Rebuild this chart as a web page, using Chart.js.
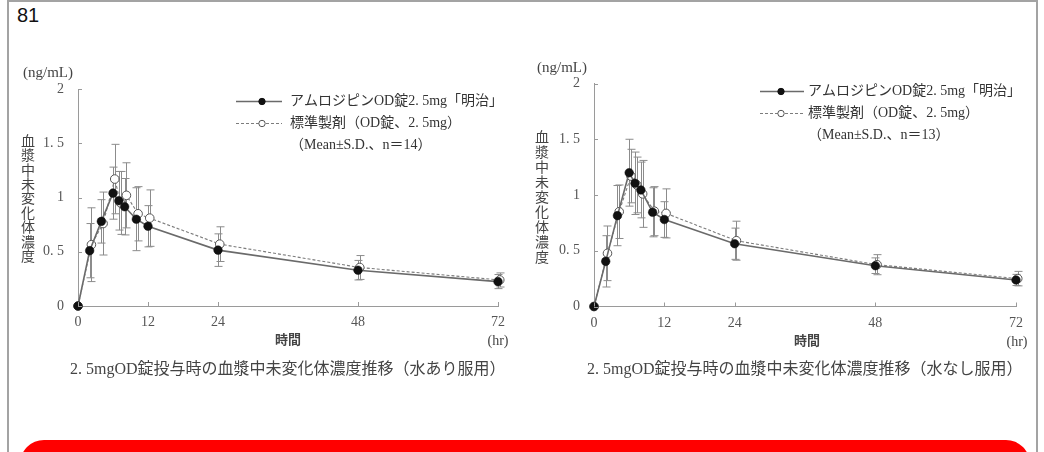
<!DOCTYPE html>
<html lang="ja">
<head>
<meta charset="utf-8">
<title>アムロジピンOD錠2.5mg 血漿中未変化体濃度推移</title>
<script src="https://cdn.jsdelivr.net/npm/chart.js@4.4.1/dist/chart.umd.min.js"></script>
<style>
  html, body { margin: 0; padding: 0; background: #fff; }
  body { width: 1044px; height: 452px; position: relative; overflow: hidden; }
  #frame { position: absolute; left: 7px; top: 0; width: 1031px; height: 470px;
           border: 2px solid #a3a3a3; box-sizing: border-box; }
  #page-no { position: absolute; left: 17px; top: 4px; color: #111;
             font: 20px 'Liberation Sans', 'Noto Sans', sans-serif; }
  #banner { position: absolute; left: 20px; top: 440px; width: 1010px; height: 60px;
            background: #ff0000; border-radius: 24px; }
  canvas { position: absolute; top: 0; }
  #chart-water { left: 0; }
  #chart-nowater { left: 522px; }
</style>
</head>
<body>
<div id="frame"></div>
<div id="page-no">81</div>
<canvas id="chart-water" width="522" height="400"></canvas>
<canvas id="chart-nowater" width="522" height="400"></canvas>
<div id="banner"></div>

<script>
// ---- sampling times (hr) ----
const TIME = [0, 2, 4, 6, 7, 8, 10, 12, 24, 48, 72];

// ---- with water: mean and S.D. (ng/mL) ----
const WATER_TEST    = [0, 0.51, 0.78, 1.04, 0.97, 0.915, 0.80, 0.735, 0.515, 0.33, 0.225];
const WATER_TEST_SD = [0, 0.25, 0.20, 0.24, 0.27, 0.26, 0.29, 0.19, 0.15, 0.09, 0.065];
const WATER_REF     = [0, 0.565, 0.76, 1.17, 0.95, 1.02, 0.85, 0.81, 0.57, 0.355, 0.24];
const WATER_REF_SD  = [0, 0.34, 0.29, 0.32, 0.29, 0.30, 0.25, 0.26, 0.16, 0.11, 0.065];

// ---- without water: mean and S.D. (ng/mL) ----
const DRY_TEST    = [0, 0.405, 0.815, 1.20, 1.105, 1.045, 0.845, 0.78, 0.563, 0.366, 0.238];
const DRY_TEST_SD = [0, 0.23, 0.27, 0.30, 0.28, 0.25, 0.22, 0.16, 0.14, 0.07, 0.05];
const DRY_REF     = [0, 0.477, 0.85, 1.17, 1.09, 1.01, 0.855, 0.835, 0.59, 0.375, 0.25];
const DRY_REF_SD  = [0, 0.245, 0.24, 0.24, 0.25, 0.30, 0.22, 0.22, 0.175, 0.09, 0.065];

// ---- axis ticks ----
const X_TICKS = [0, 12, 24, 48, 72];
const Y_TICKS = [0, 0.5, 1, 1.5, 2];
const Y_TICK_LABELS = ['0', '0. 5', '1', '1. 5', '2'];

// ---- texts ----
const TEST_NAME = 'アムロジピンOD錠2. 5mg「明治」';
const REF_NAME = '標準製剤（OD錠、2. 5mg）';
const N_WATER = 14;
const N_DRY = 13;
const Y_UNIT = '(ng/mL)';
const Y_TITLE = '血漿中未変化体濃度';
const X_TITLE = '時間';
const X_UNIT = '(hr)';
const CAPTION_WATER = '2. 5mgOD錠投与時の血漿中未変化体濃度推移（水あり服用）';
const CAPTION_DRY = '2. 5mgOD錠投与時の血漿中未変化体濃度推移（水なし服用）';

// reference-product markers after dosing are nudged right so overlapping symbols stay visible
const REF_SHIFT = 0.3;

const SERIF = "'Liberation Serif', 'Noto Sans CJK JP', serif";
const TEXT_COLOR = '#444';
const AXIS_COLOR = '#9a9a9a';
const BAR_COLOR = '#8c8c8c';

// vertical S.D. whiskers, drawn beneath the markers
const errorBars = {
  id: 'errorBars',
  beforeDatasetsDraw(chart) {
    const { ctx } = chart;
    const ys = chart.scales.y;
    ctx.save();
    ctx.strokeStyle = BAR_COLOR;
    ctx.lineWidth = 1;
    chart.data.datasets.forEach((ds, di) => {
      const meta = chart.getDatasetMeta(di);
      ds.data.forEach((p, j) => {
        const sd = ds.sd[j];
        if (!sd) return;
        const x = Math.round(meta.data[j].x) + 0.5;
        const yt = ys.getPixelForValue(p.y + sd);
        const yb = ys.getPixelForValue(Math.max(p.y - sd, 0));
        ctx.beginPath();
        ctx.moveTo(x, yt); ctx.lineTo(x, yb);
        ctx.moveTo(x - 4, yt); ctx.lineTo(x + 4, yt);
        ctx.moveTo(x - 4, yb); ctx.lineTo(x + 4, yb);
        ctx.stroke();
      });
    });
    ctx.restore();
  }
};

// short inward tick marks on both axes
const innerTicks = {
  id: 'innerTicks',
  afterDraw(chart) {
    const { ctx, chartArea: a, scales } = chart;
    ctx.save();
    ctx.strokeStyle = AXIS_COLOR;
    ctx.lineWidth = 1;
    ctx.beginPath();
    X_TICKS.forEach(v => {
      const x = Math.round(scales.x.getPixelForValue(v)) + 0.5;
      ctx.moveTo(x, a.bottom); ctx.lineTo(x, a.bottom - 4);
    });
    Y_TICKS.forEach(v => {
      const y = Math.round(scales.y.getPixelForValue(v)) + 0.5;
      ctx.moveTo(a.left, y); ctx.lineTo(a.left + 4, y);
    });
    ctx.stroke();
    ctx.restore();
  }
};

// legend, axis captions and figure title
const annotations = {
  id: 'annotations',
  afterDraw(chart, args, o) {
    const { ctx } = chart;
    const ds = chart.data.datasets;
    ctx.save();
    ctx.fillStyle = TEXT_COLOR;
    ctx.textBaseline = 'middle';

    // y unit and stacked vertical title
    ctx.font = '15px ' + SERIF;
    ctx.textAlign = 'center';
    ctx.fillText(Y_UNIT, o.unitX, o.unitY);
    ctx.font = '14px ' + SERIF;
    [...Y_TITLE].forEach((ch, i) => ctx.fillText(ch, o.titleX, o.titleY + i * o.titleStep));

    // x title and unit
    ctx.font = 'bold 13px ' + SERIF;
    ctx.fillText(X_TITLE, o.xTitleX, o.xTitleY);
    ctx.font = '14px ' + SERIF;
    ctx.fillText(X_UNIT, o.xUnitX, o.xTitleY);

    // figure caption
    ctx.font = '16px ' + SERIF;
    ctx.textAlign = 'left';
    ctx.fillText(o.caption, o.capX, o.capY, o.capW);

    // legend rows
    const rows = [ds[0], ds[1]];
    rows.forEach((d, i) => {
      const y = o.legY + i * o.legStep + 0.5;
      ctx.save();
      ctx.strokeStyle = d.borderColor;
      ctx.lineWidth = d.borderWidth;
      ctx.setLineDash(d.borderDash || []);
      ctx.beginPath();
      ctx.moveTo(o.legX0, y); ctx.lineTo(o.legX1, y);
      ctx.stroke();
      ctx.setLineDash([]);
      ctx.beginPath();
      ctx.arc(o.legMarkX, y, 3.2, 0, Math.PI * 2);
      ctx.fillStyle = d.pointBackgroundColor;
      ctx.fill();
      ctx.lineWidth = 1;
      ctx.strokeStyle = d.pointBorderColor;
      ctx.stroke();
      ctx.restore();
      ctx.font = '14px ' + SERIF;
      ctx.fillStyle = '#333';
      ctx.fillText(d.label, o.legTextX, y);
    });
    ctx.font = '14px ' + SERIF;
    ctx.fillStyle = '#333';
    ctx.fillText('（Mean±S.D.、n＝' + o.n + '）', o.legTextX, o.legY + 2 * o.legStep);
    ctx.restore();
  }
};

function buildChart(canvasId, box, test, testSd, ref, refSd, notes) {
  const canvas = document.getElementById(canvasId);
  const YW = 40, XH = 30;
  return new Chart(canvas, {
    type: 'line',
    data: {
      datasets: [
        {
          label: TEST_NAME,
          data: TIME.map((t, i) => ({ x: t, y: test[i] })),
          sd: testSd,
          borderColor: '#6a6a6a',
          borderWidth: 1.6,
          pointRadius: 4.3,
          pointBackgroundColor: '#111',
          pointBorderColor: '#111',
          pointBorderWidth: 0.5,
          tension: 0,
          clip: false
        },
        {
          label: REF_NAME,
          data: TIME.map((t, i) => ({ x: t > 0 ? t + REF_SHIFT : t, y: ref[i] })),
          sd: refSd,
          borderColor: '#7c7c7c',
          borderWidth: 1.1,
          borderDash: [3, 2],
          pointRadius: 4.3,
          pointBackgroundColor: '#ffffff',
          pointBorderColor: '#555',
          pointBorderWidth: 1,
          tension: 0,
          clip: false
        }
      ]
    },
    options: {
      responsive: false,
      animation: false,
      events: [],
      layout: {
        autoPadding: false,
        padding: {
          left: box.left - YW,
          right: canvas.width - box.right,
          top: box.top,
          bottom: canvas.height - box.bottom - XH
        }
      },
      scales: {
        x: {
          type: 'linear', min: 0, max: 72,
          afterBuildTicks: s => { s.ticks = X_TICKS.map(v => ({ value: v })); },
          afterFit: s => { s.height = XH; },
          grid: { display: true, drawOnChartArea: false, drawTicks: false },
          border: { display: true, color: AXIS_COLOR, width: 1 },
          ticks: { color: '#555', font: { family: SERIF, size: 14 }, padding: 8, maxRotation: 0 }
        },
        y: {
          type: 'linear', min: 0, max: 2,
          afterBuildTicks: s => { s.ticks = Y_TICKS.map(v => ({ value: v })); },
          afterFit: s => { s.width = YW; },
          grid: { display: true, drawOnChartArea: false, drawTicks: false },
          border: { display: true, color: AXIS_COLOR, width: 1 },
          ticks: {
            color: '#555', font: { family: SERIF, size: 14 }, padding: 14,
            callback: (v, i) => Y_TICK_LABELS[i]
          }
        }
      },
      plugins: {
        legend: { display: false },
        tooltip: { enabled: false },
        annotations: notes
      }
    },
    plugins: [errorBars, innerTicks, annotations]
  });
}

buildChart('chart-water',
  { left: 78, right: 498, top: 89, bottom: 306 },
  WATER_TEST, WATER_TEST_SD, WATER_REF, WATER_REF_SD,
  {
    unitX: 48, unitY: 73,
    titleX: 28, titleY: 142, titleStep: 14.45,
    xTitleX: 288, xTitleY: 341, xUnitX: 498,
    caption: CAPTION_WATER, capX: 70, capY: 370, capW: 443,
    legX0: 236, legX1: 282, legMarkX: 262, legTextX: 290,
    legY: 101, legStep: 22, n: N_WATER
  });

buildChart('chart-nowater',
  { left: 72, right: 494, top: 83.5, bottom: 306.5 },
  DRY_TEST, DRY_TEST_SD, DRY_REF, DRY_REF_SD,
  {
    unitX: 40, unitY: 68,
    titleX: 20, titleY: 138, titleStep: 15,
    xTitleX: 285, xTitleY: 342, xUnitX: 495,
    caption: CAPTION_DRY, capX: 65, capY: 370, capW: 444,
    legX0: 238, legX1: 282, legMarkX: 259, legTextX: 286,
    legY: 91, legStep: 22, n: N_DRY
  });
</script>
</body>
</html>
